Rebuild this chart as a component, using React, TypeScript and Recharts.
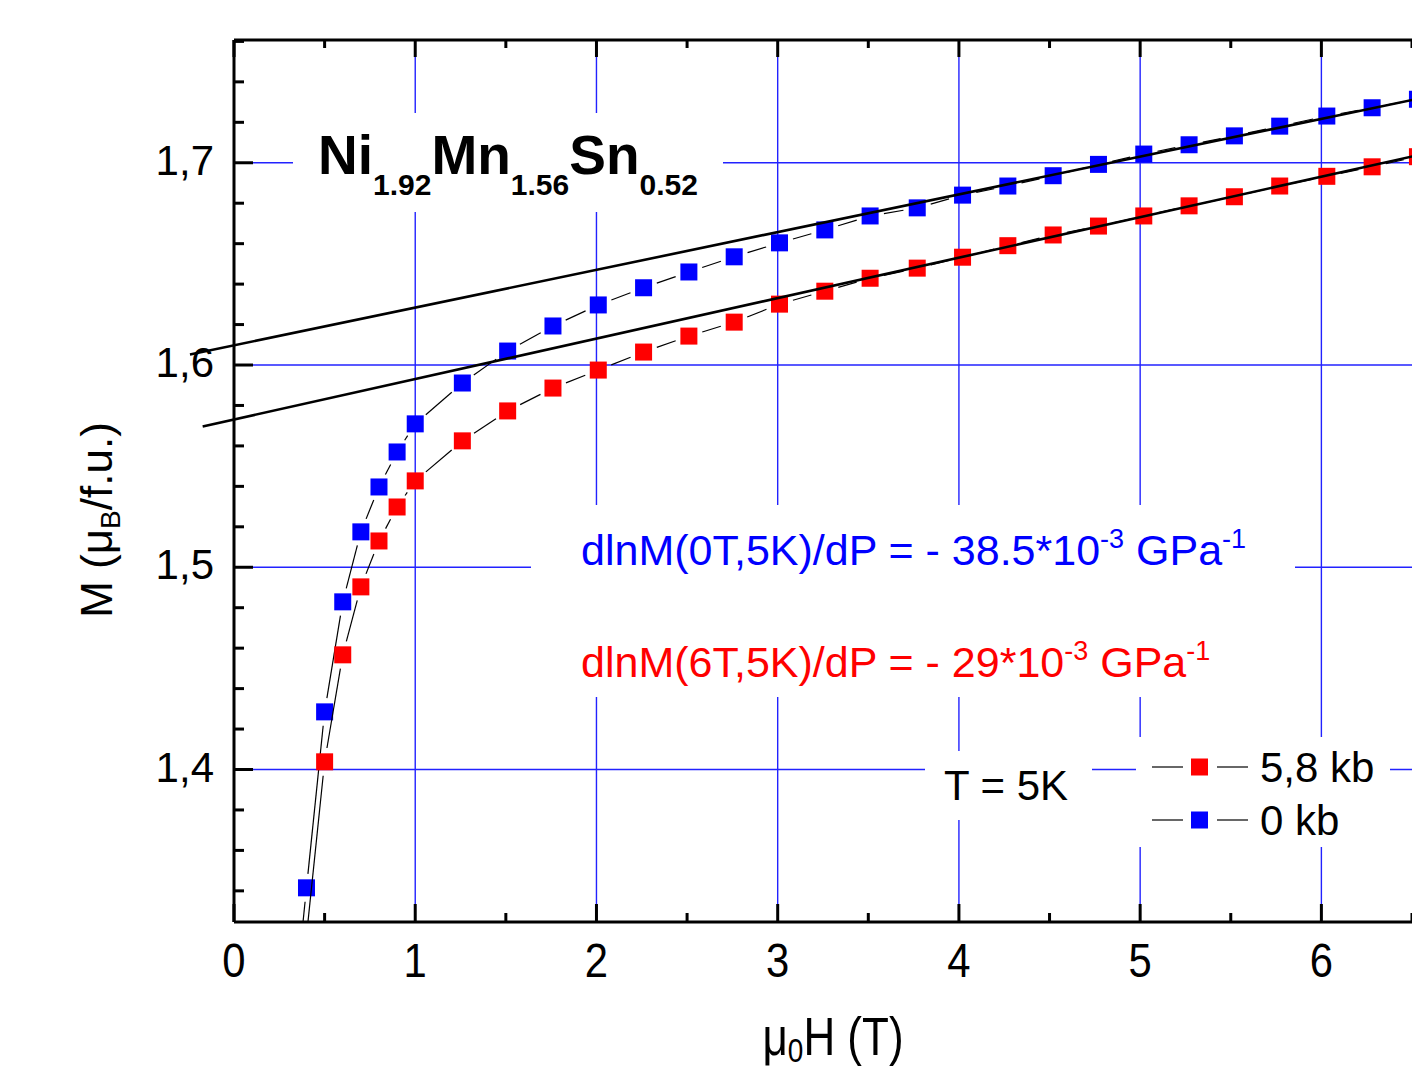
import React from 'react';
import { ComposedChart, Line, XAxis, YAxis, ReferenceLine } from 'recharts';

// ---------- data ----------
const fieldBlue = [0.30, 0.40, 0.50, 0.60, 0.70, 0.80, 0.90, 1.00, 1.26, 1.51, 1.76, 2.01, 2.26, 2.51, 2.76, 3.01, 3.26, 3.51, 3.77, 4.02, 4.27, 4.52, 4.77, 5.02, 5.27, 5.52, 5.77, 6.03, 6.28, 6.53];
const mBlue = [1.2534, 1.3415, 1.4285, 1.4829, 1.5175, 1.5397, 1.5570, 1.5709, 1.5911, 1.6069, 1.6193, 1.6297, 1.6382, 1.6460, 1.6535, 1.6604, 1.6668, 1.6737, 1.6777, 1.6840, 1.6885, 1.6936, 1.6992, 1.7043, 1.7089, 1.7133, 1.7181, 1.7231, 1.7272, 1.7314];

const fieldRed = [0.40, 0.50, 0.60, 0.70, 0.80, 0.90, 1.00, 1.26, 1.51, 1.76, 2.01, 2.26, 2.51, 2.76, 3.01, 3.26, 3.51, 3.77, 4.02, 4.27, 4.52, 4.77, 5.02, 5.27, 5.52, 5.77, 6.03, 6.28, 6.53];
const mRed = [1.3177, 1.4038, 1.4567, 1.4903, 1.5130, 1.5298, 1.5427, 1.5625, 1.5773, 1.5886, 1.5975, 1.6064, 1.6143, 1.6212, 1.6301, 1.6365, 1.6429, 1.6479, 1.6533, 1.6590, 1.6643, 1.6687, 1.6737, 1.6787, 1.6832, 1.6885, 1.6933, 1.6980, 1.7030];

const fitBlueX = [-0.243, 6.6];
const fitBlueM = [1.6052, 1.7329];
const fitRedX = [-0.173, 6.6];
const fitRedM = [1.5696, 1.7051];

const xTicks = [0, 0.5, 1, 1.5, 2, 2.5, 3, 3.5, 4, 4.5, 5, 5.5, 6, 6.5];
const yTicks = [1.34, 1.36, 1.38, 1.40, 1.42, 1.44, 1.46, 1.48, 1.50, 1.52, 1.54, 1.56, 1.58, 1.60, 1.62, 1.64, 1.66, 1.68, 1.70, 1.72, 1.74, 1.76];
const gridX = [1, 2, 3, 4, 5, 6];
const gridY = [1.4, 1.5, 1.6, 1.7];

const seriesNames = ['5,8 kb', '0 kb'];
const seriesColors = ['#ff0000', '#0000ff'];

const blueData = fieldBlue.map((x, i) => ({ x, m: mBlue[i] }));
const redData = fieldRed.map((x, i) => ({ x, m: mRed[i] }));

// ---------- styles ----------
const FONT = "'Liberation Sans', Arial, Helvetica, sans-serif";
const GRID = '#2222ff';
const GAP = 14;
const HALF = 8.5;

function makeDot(color: string) {
  return (props: any) => {
    const { cx, cy, index, points } = props;
    let seg: any = null;
    if (points && index < points.length - 1) {
      const n = points[index + 1];
      const dx = n.x - cx;
      const dy = n.y - cy;
      const d = Math.hypot(dx, dy);
      if (d > 2 * GAP) {
        const ux = dx / d;
        const uy = dy / d;
        seg = (
          <line x1={cx + ux * GAP} y1={cy + uy * GAP} x2={n.x - ux * GAP} y2={n.y - uy * GAP} stroke="#000" strokeWidth={1.2} />
        );
      }
    }
    return (
      <g key={`dot-${color}-${index}`}>
        {seg}
        <rect x={cx - HALF} y={cy - HALF} width={HALF * 2} height={HALF * 2} fill={color} />
      </g>
    );
  };
}

const isInt = (v: number) => Math.abs(v - Math.round(v)) < 1e-6;
const isMajorY = (v: number) => Math.abs(v * 10 - Math.round(v * 10)) < 1e-6;

const BottomTick = (props: any) => {
  const { x, y, payload } = props;
  const v = payload.value;
  const major = isInt(v);
  return (
    <g>
      <line x1={x} x2={x} y1={y} y2={y - (major ? 18 : 9)} stroke="#000" strokeWidth={3} />
      {major && (
        <text transform={`translate(${x},${y + 55}) scale(0.95,1.1)`} textAnchor="middle" fontSize={44} fontFamily={FONT} fill="#000">
          {String(v)}
        </text>
      )}
    </g>
  );
};

const TopTick = (props: any) => {
  const { x, y, payload } = props;
  const major = isInt(payload.value);
  return <line x1={x} x2={x} y1={y} y2={y + (major ? 17 : 8)} stroke="#000" strokeWidth={3} />;
};

const LeftTick = (props: any) => {
  const { x, y, payload } = props;
  const v = payload.value;
  const major = isMajorY(v);
  return (
    <g>
      <line x1={x} x2={x + (major ? 19 : 10)} y1={y} y2={y} stroke="#000" strokeWidth={3} />
      {major && (
        <text x={x - 20} y={y + 12} textAnchor="end" fontSize={42} fontFamily={FONT} fill="#000">
          {v.toFixed(1).replace('.', ',')}
        </text>
      )}
    </g>
  );
};

export default function App() {
  return (
    <div style={{ position: 'absolute', left: 0, top: 0, width: 1412, height: 1070, overflow: 'hidden', background: '#ffffff' }}>
      <ComposedChart width={1412} height={1070} margin={{ top: 10, right: 0, bottom: 68, left: 134 }}>
        <XAxis
          xAxisId="b"
          dataKey="x"
          type="number"
          domain={[0, 6.5]}
          allowDataOverflow
          ticks={xTicks}
          interval={0}
          tickSize={0}
          tickMargin={0}
          tickLine={false}
          axisLine={{ stroke: '#000', strokeWidth: 3 }}
          tick={<BottomTick />}
          height={80}
        />
        <XAxis
          xAxisId="t"
          orientation="top"
          dataKey="x"
          type="number"
          domain={[0, 6.5]}
          allowDataOverflow
          ticks={xTicks}
          interval={0}
          tickSize={0}
          tickMargin={0}
          tickLine={false}
          axisLine={{ stroke: '#000', strokeWidth: 3 }}
          tick={<TopTick />}
          height={30}
        />
        <YAxis
          yAxisId="l"
          dataKey="m"
          type="number"
          domain={[1.3246, 1.7607]}
          allowDataOverflow
          ticks={yTicks}
          interval={0}
          tickSize={0}
          tickMargin={0}
          tickLine={false}
          axisLine={{ stroke: '#000', strokeWidth: 3 }}
          tick={<LeftTick />}
          width={100}
        />
        {gridX.map((v) => (
          <ReferenceLine key={`gx${v}`} xAxisId="b" yAxisId="l" x={v} stroke={GRID} strokeWidth={1.4} zIndex={-100} />
        ))}
        {gridY.map((v) => (
          <ReferenceLine key={`gy${v}`} xAxisId="b" yAxisId="l" y={v} stroke={GRID} strokeWidth={1.4} zIndex={-100} />
        ))}
        <Line
          xAxisId="b"
          yAxisId="l"
          data={blueData}
          dataKey="m"
          stroke="none"
          isAnimationActive={false}
          dot={makeDot('#0000ff')}
          activeDot={false}
          name={seriesNames[1]}
        />
        <Line
          xAxisId="b"
          yAxisId="l"
          data={redData}
          dataKey="m"
          stroke="none"
          isAnimationActive={false}
          dot={makeDot('#ff0000')}
          activeDot={false}
          name={seriesNames[0]}
        />
        <ReferenceLine
          xAxisId="b"
          yAxisId="l"
          segment={[{ x: fitBlueX[0], y: fitBlueM[0] }, { x: fitBlueX[1], y: fitBlueM[1] }]}
          stroke="#000"
          strokeWidth={2.6}
          ifOverflow="visible"
          zIndex={700}
        />
        <ReferenceLine
          xAxisId="b"
          yAxisId="l"
          segment={[{ x: fitRedX[0], y: fitRedM[0] }, { x: fitRedX[1], y: fitRedM[1] }]}
          stroke="#000"
          strokeWidth={2.6}
          ifOverflow="visible"
          zIndex={700}
        />
      </ComposedChart>

      <svg width={1412} height={1070} style={{ position: 'absolute', left: 0, top: 0, pointerEvents: 'none' }} fontFamily={FONT}>
        {/* title */}
        <rect x={293} y={113} width={430} height={99} fill="#ffffff" />
        <text x={318} y={174} fontSize={55} fontWeight="bold" fill="#000">
          Ni<tspan fontSize={30} dy={21}>1.92</tspan>
          <tspan fontSize={55} dy={-21}>Mn</tspan>
          <tspan fontSize={30} dy={21}>1.56</tspan>
          <tspan fontSize={55} dy={-21}>Sn</tspan>
          <tspan fontSize={30} dy={21}>0.52</tspan>
        </text>

        {/* dlnM annotations */}
        <rect x={531} y={505} width={764} height={192} fill="#ffffff" />
        <text x={581} y={565} fontSize={43} fill="#0000ff">
          dlnM(0T,5K)/dP = - 38.5*10<tspan fontSize={27} dy={-17}>-3</tspan>
          <tspan fontSize={43} dy={17}> GPa</tspan>
          <tspan fontSize={27} dy={-17}>-1</tspan>
        </text>
        <text x={581} y={677} fontSize={43} fill="#ff0000">
          dlnM(6T,5K)/dP = - 29*10<tspan fontSize={27} dy={-17}>-3</tspan>
          <tspan fontSize={43} dy={17}> GPa</tspan>
          <tspan fontSize={27} dy={-17}>-1</tspan>
        </text>

        {/* T = 5K */}
        <rect x={925} y={751} width={167} height={69} fill="#ffffff" />
        <text x={944} y={800} fontSize={42} fill="#000">T = 5K</text>

        {/* legend */}
        <rect x={1136} y={737} width={254} height={110} fill="#ffffff" />
        {seriesNames.map((name, i) => {
          const cy = 767 + i * 53;
          return (
            <g key={name}>
              <line x1={1152} x2={1183} y1={cy} y2={cy} stroke="#000" strokeWidth={1.2} />
              <rect x={1191} y={cy - HALF} width={HALF * 2} height={HALF * 2} fill={seriesColors[i]} />
              <line x1={1217} x2={1248} y1={cy} y2={cy} stroke="#000" strokeWidth={1.2} />
              <text x={1260} y={cy + 15} fontSize={42} fill="#000">{name}</text>
            </g>
          );
        })}

        {/* axis titles */}
        <text transform="translate(833,1055) scale(1,1.2)" textAnchor="middle" fontSize={44} fill="#000">
          μ<tspan fontSize={28} dy={6}>0</tspan>
          <tspan fontSize={44} dy={-6}>H (T)</tspan>
        </text>
        <text transform="translate(112,520) rotate(-90)" textAnchor="middle" fontSize={44} fill="#000">
          M (μ<tspan fontSize={28} dy={8}>B</tspan>
          <tspan fontSize={44} dy={-8}>/f.u.)</tspan>
        </text>
      </svg>
    </div>
  );
}
